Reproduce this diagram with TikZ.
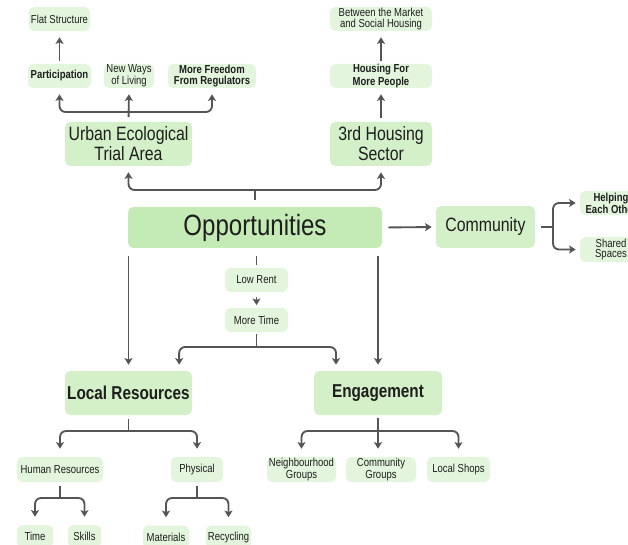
\documentclass[tikz,border=0pt]{standalone}
\usepackage{fontspec}
\setmainfont{Liberation Sans}[FakeStretch=0.82]
\usetikzlibrary{arrows.meta}
\definecolor{oppgreen}{HTML}{C4EAB5}
\definecolor{midgreen}{HTML}{D3F0C8}
\definecolor{lightgreen}{HTML}{E3F5DC}
\definecolor{linegray}{HTML}{555555}
\definecolor{textgray}{HTML}{1E1E1E}
\tikzset{
    box/.style={rounded corners=4pt,inner sep=0pt,align=center,text=textgray},
    bigbox/.style={box,fill=oppgreen,font=\fontsize{22}{24}\selectfont},
    midbox/.style={box,fill=midgreen,font=\fontsize{14.5}{15}\selectfont},
    midbf/.style={midbox,font=\fontsize{14}{15}\selectfont\bfseries},
    smallbox/.style={box,fill=lightgreen,font=\fontsize{8.7}{7.6}\selectfont},
    smallbf/.style={smallbox,font=\fontsize{8.7}{7.6}\selectfont\bfseries},
    sz/.style 2 args={minimum width=#1*0.75pt,minimum height=#2*0.75pt},
    line/.style={draw=linegray,line width=1.4pt,rounded corners=4.5pt},
    arr/.style={line,->,shorten >=4.5pt},
    arrtwo/.style={line,<->,shorten >=4.5pt,shorten <=4.5pt}
}
\begin{document}
\begin{tikzpicture}[x=0.75pt,y=-0.75pt,>={Stealth[length=5pt,width=6pt,inset=1.2pt]}]
\useasboundingbox (0,0) rectangle (628,545);
\fill[white] (0,0) rectangle (628,545);
\clip (0,0) rectangle (628,545);
\node[smallbox,sz={61}{24}] (flat) at (59.5,19) {Flat Structure};
\node[smallbf,sz={63}{24}] (particip) at (59.5,76) {Participation};
\node[smallbox,sz={50}{24}] (newways) at (129,76) {New Ways\\of Living};
\node[smallbf,sz={88}{24}] (freedom) at (212,76) {More Freedom\\From Regulators};
\node[midbox,sz={127}{44}] (urban) at (128.5,144) {Urban Ecological\\Trial Area};
\node[smallbox,sz={102}{24}] (between) at (381,19) {Between the Market\\and Social Housing};
\node[smallbf,sz={102}{24}] (housing) at (381,76) {Housing For\\More People};
\node[midbox,sz={102}{44}] (sector) at (381,144) {3rd Housing\\Sector};
\node[bigbox,sz={254}{41}] (opp) at (255,227.5) {Opportunities};
\node[midbox,sz={99}{42}] (community) at (485.5,227) {Community};
\node[smallbf,sz={62}{24}] (helping) at (611,203) {Helping\\Each Other};
\node[smallbox,sz={62}{25}] (shared) at (611,249.5) {Shared\\Spaces};
\node[smallbox,sz={63}{24}] (lowrent) at (256.5,280) {Low Rent};
\node[smallbox,sz={63}{24}] (moretime) at (256.5,320) {More Time};
\node[midbf,sz={127}{44}] (localres) at (128.5,393) {Local Resources};
\node[midbf,sz={128}{44}] (engage) at (378,393) {Engagement};
\node[smallbox,sz={86}{25}] (human) at (60,469.5) {Human Resources};
\node[smallbox,sz={52}{25}] (physical) at (197,469.5) {Physical};
\node[smallbox,sz={69}{25}] (neighbour) at (301.5,469.5) {Neighbourhood\\Groups};
\node[smallbox,sz={70}{25}] (commgroups) at (381,469.5) {Community\\Groups};
\node[smallbox,sz={63}{25}] (shops) at (458.5,469.5) {Local Shops};
\node[smallbox,sz={36}{23}] (time) at (35,536.5) {Time};
\node[smallbox,sz={33}{23}] (skills) at (84.5,536.5) {Skills};
\node[smallbox,sz={46}{23}] (materials) at (166,537) {Materials};
\node[smallbox,sz={45}{23}] (recycling) at (228.5,537) {Recycling};
\coordinate (oppfork) at (255,190);
\coordinate (urbanfork) at (128.5,112);
\coordinate (commfork) at (553,227);
\coordinate (timefork) at (256.5,347);
\coordinate (lrfork) at (128.5,431);
\coordinate (enfork) at (378,431);
\coordinate (hrfork) at (60,498);
\coordinate (physfork) at (197,498);
\draw[line,shorten <=5pt] (opp.north) -- (oppfork);
\draw[arrtwo] (urban.south) |- (oppfork) -| (sector.south);
\draw[arr,shorten <=3.5pt] (urban.north) -- (newways.south);
\draw[arrtwo] (particip.south) |- (urbanfork) -| (freedom.south);
\draw[arr,shorten <=2pt] (particip.north) -- (flat.south);
\draw[arr,shorten <=3pt] (sector.north) -- (housing.south);
\draw[arr,shorten <=2pt] (housing.north) -- (between.south);
\draw[arr,shorten <=4.5pt,shorten >=3pt] (opp.east) -- (community.west);
\draw[line,shorten <=4pt] (community.east) -- (commfork);
\draw[line,<->,shorten <=3pt,shorten >=3pt] (helping.west) -| (commfork) |- (shared.west);
\draw[arr,shorten <=6pt] (opp.south -| localres.north) -- (localres.north);
\draw[arr,shorten <=6pt] (opp.south -| engage.north) -- (engage.north);
\draw[line,shorten <=6pt,shorten >=2pt] (opp.south -| lowrent.north) -- (lowrent.north);
\draw[line,->,shorten <=3.5pt,shorten >=2pt] (lowrent.south) -- (moretime.north);
\draw[line,shorten <=1.5pt] (moretime.south) -- (timefork);
\draw[arrtwo] ([xshift=38pt]localres.north) |- (timefork) -| ([xshift=-31.5pt]engage.north);
\draw[line,shorten <=3pt] (localres.south) -- (lrfork);
\draw[arrtwo,shorten <=6pt,shorten >=6pt] (human.north) |- (lrfork) -| (physical.north);
\draw[arr,shorten <=2pt,shorten >=6pt] (engage.south) -- (engage.south |- commgroups.north);
\draw[arrtwo,shorten <=6pt,shorten >=6pt] (neighbour.north) |- (enfork) -| (shops.north);
\draw[line,shorten <=3pt] (human.south) -- (hrfork);
\draw[arrtwo,shorten <=6pt,shorten >=6pt] (time.north) |- (hrfork) -| (skills.north);
\draw[line,shorten <=3pt] (physical.south) -- (physfork);
\draw[arrtwo,shorten <=6pt,shorten >=6pt] (materials.north) |- (physfork) -| (recycling.north);
\end{tikzpicture}
\end{document}
